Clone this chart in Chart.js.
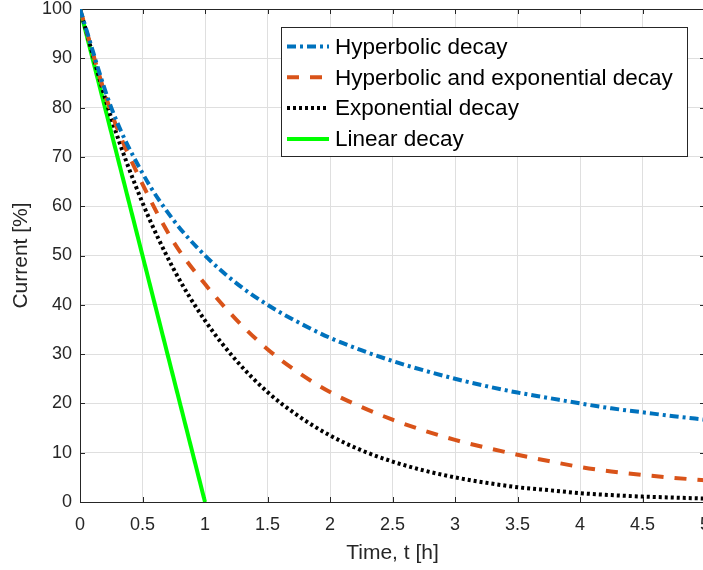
<!DOCTYPE html>
<html>
<head>
<meta charset="utf-8">
<script src="https://cdn.jsdelivr.net/npm/chart.js@4/dist/chart.umd.min.js"></script>
<style>
  html, body { margin: 0; padding: 0; background: #fff; overflow: hidden; }
  #wrap { width: 712px; height: 570px; }
</style>
</head>
<body>
<div id="wrap"><canvas id="decayChart" width="712" height="570"></canvas></div>
<script>
// values
const times = [0, 0.25, 0.5, 0.75, 1, 1.25, 1.5, 1.75, 2, 2.25, 2.5, 2.75, 3, 3.25, 3.5, 3.75, 4, 4.25, 4.5, 4.75, 5];
const hyperbolic = [100, 80, 66.7, 57.1, 50, 44.4, 40, 36.4, 33.3, 30.8, 28.6, 26.7, 25, 23.5, 22.2, 21.1, 20, 19, 18.2, 17.4, 16.7];
const hypExp = [100, 79, 64.5, 52.7, 44.2, 37, 31, 26.2, 22.3, 19.3, 16.7, 14.5, 12.6, 11, 9.6, 8.3, 7.1, 6.2, 5.5, 4.9, 4.4];
const exponential = [100, 77.9, 60.7, 47.2, 36.8, 28.7, 22.3, 17.4, 13.5, 10.5, 8.2, 6.4, 5.0, 3.9, 3.0, 2.4, 1.8, 1.4, 1.1, 0.9, 0.7];
const linearTimes = [0, 1];
const linear = [100, 0];

const labels = ["Hyperbolic decay", "Hyperbolic and exponential decay", "Exponential decay", "Linear decay"];

const axisColor = "#262626";
const gridColor = "#dfdfdf";
const fontFamily = "'Liberation Sans', Arial, sans-serif";

function pts(xs, ys) {
    return xs.map((x, i) => ({ x: x, y: ys[i] }));
}

// box round the plot with inward ticks, like the original
const boxPlugin = {
    id: "box",
    beforeDatasetsDraw(chart) {
        const { ctx, chartArea: a, scales } = chart;
        ctx.save();
        ctx.strokeStyle = axisColor;
        ctx.lineWidth = 1;
        ctx.strokeRect(a.left + 0.5, a.top + 0.5, a.right - a.left, a.bottom - a.top);
        const len = 5;
        ctx.beginPath();
        scales.x.ticks.forEach(t => {
            const px = Math.round(scales.x.getPixelForValue(t.value)) + 0.5;
            ctx.moveTo(px, a.bottom); ctx.lineTo(px, a.bottom - len);
            ctx.moveTo(px, a.top); ctx.lineTo(px, a.top + len);
        });
        scales.y.ticks.forEach(t => {
            const py = Math.round(scales.y.getPixelForValue(t.value)) + 0.5;
            ctx.moveTo(a.left, py); ctx.lineTo(a.left + len, py);
            ctx.moveTo(a.right, py); ctx.lineTo(a.right - len, py);
        });
        ctx.stroke();
        ctx.restore();
    }
};

const legendPlugin = {
    id: "boxLegend",
    afterDraw(chart) {
        const { ctx, chartArea: a } = chart;
        const x0 = a.left + 201, y0 = a.top + 18;
        const w = 406, h = 129, row = 30.8;
        ctx.save();
        ctx.fillStyle = "#fff";
        ctx.fillRect(x0, y0, w, h);
        ctx.strokeStyle = axisColor;
        ctx.lineWidth = 1;
        ctx.strokeRect(x0 + 0.5, y0 + 0.5, w, h);
        ctx.font = "22.5px " + fontFamily;
        ctx.textBaseline = "middle";
        chart.data.datasets.forEach((ds, i) => {
            const cy = y0 + 19.5 + i * row;
            ctx.strokeStyle = ds.borderColor;
            ctx.lineWidth = ds.borderWidth;
            ctx.setLineDash(ds.borderDash || []);
            ctx.beginPath();
            ctx.moveTo(x0 + 6, cy);
            ctx.lineTo(x0 + 48, cy);
            ctx.stroke();
            ctx.setLineDash([]);
            ctx.fillStyle = "#000";
            ctx.fillText(ds.label, x0 + 54, cy + 1);
        });
        ctx.restore();
    }
};

new Chart(document.getElementById("decayChart"), {
    type: "line",
    data: {
        datasets: [
            { label: labels[0], data: pts(times, hyperbolic), borderColor: "#0072bd", borderWidth: 4, borderDash: [9, 4, 3, 4] },
            { label: labels[1], data: pts(times, hypExp), borderColor: "#d95319", borderWidth: 4, borderDash: [12, 11] },
            { label: labels[2], data: pts(times, exponential), borderColor: "#000000", borderWidth: 4, borderDash: [3, 3] },
            { label: labels[3], data: pts(linearTimes, linear), borderColor: "#00ff00", borderWidth: 4 }
        ]
    },
    options: {
        responsive: false,
        animation: false,
        events: [],
        elements: {
            point: { radius: 0 },
            line: { cubicInterpolationMode: "monotone", fill: false }
        },
        layout: { padding: { left: 0, right: 7, top: 9, bottom: 0 } },
        plugins: { legend: { display: false }, tooltip: { enabled: false } },
        scales: {
            x: {
                type: "linear",
                min: 0,
                max: 5,
                ticks: {
                    stepSize: 0.5,
                    color: axisColor,
                    padding: 12,
                    font: { family: fontFamily, size: 18 },
                    callback: v => String(v)
                },
                grid: { color: gridColor, drawTicks: false },
                border: { display: false },
                title: { display: true, text: "Time, t [h]", color: axisColor, padding: { top: 0, bottom: 4 }, font: { family: fontFamily, size: 21 } },
                afterFit(scale) { scale.height = 68; scale.paddingLeft = 0; scale.paddingRight = 0; }
            },
            y: {
                min: 0,
                max: 100,
                ticks: { stepSize: 10, color: axisColor, padding: 8, font: { family: fontFamily, size: 18 } },
                grid: { color: gridColor, drawTicks: false },
                border: { display: false },
                title: { display: true, text: "Current [%]", color: axisColor, padding: { top: 9, bottom: 0 }, font: { family: fontFamily, size: 21 } },
                afterFit(scale) { scale.width = 80; scale.paddingTop = 0; scale.paddingBottom = 0; }
            }
        }
    },
    plugins: [boxPlugin, legendPlugin]
});
</script>
</body>
</html>
